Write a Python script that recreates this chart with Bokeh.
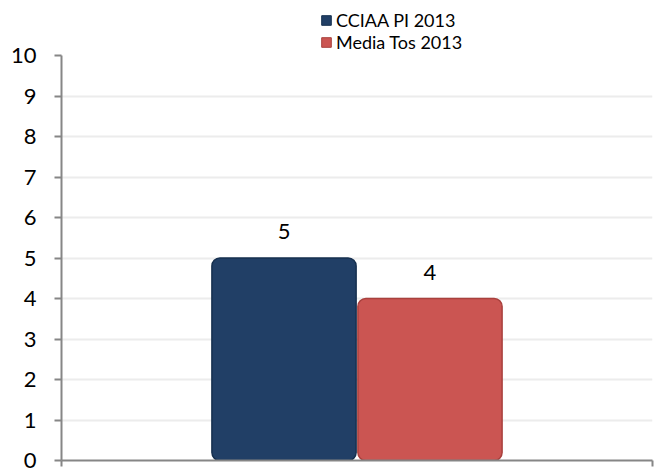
from bokeh.plotting import figure
from bokeh.layouts import column
from bokeh.models import Range1d, FixedTicker, Legend, LegendItem, ColumnDataSource
from bokeh.core.properties import value
from bokeh.embed import file_html
from bokeh.resources import INLINE

series = ["CCIAA PI 2013", "Media Tos 2013"]
values = [5, 4]
colors = ["#213f66", "#cb5552"]
edge_colors = ["#16304f", "#a9403d"]
y_ticks = [0, 1, 2, 3, 4, 5, 6, 7, 8, 9, 10]

FONT = "Lato"
NAN = float("nan")

# ---- legend strip (drawn underneath the chart's transparent top border) ----
lf = figure(width=654, height=55, output_backend="svg", toolbar_location=None,
            x_range=Range1d(0, 1), y_range=Range1d(0, 1), min_border=0,
            x_axis_location=None, y_axis_location=None)
lf.grid.grid_line_color = None
lf.outline_line_color = None
lrs = []
for i in range(2):
    # placeholder glyphs with no drawable data; only their legend swatches show
    lrs.append(lf.vbar(x=[NAN], top=[NAN], bottom=0, width=0.1,
                       fill_color=colors[i], line_color=edge_colors[i], line_width=1))

legend = Legend(items=[LegendItem(label=series[i], renderers=[lrs[i]]) for i in range(2)],
                location=(259, 2), orientation="vertical",
                label_text_font=FONT, label_text_font_size="18px", label_text_color="#000000",
                glyph_width=12, glyph_height=12, label_height=18, spacing=0,
                padding=0, margin=0, label_standoff=4,
                background_fill_alpha=0, border_line_color=None)
lf.add_layout(legend)

# ---- main chart ----
p = figure(width=654, height=476, output_backend="svg", toolbar_location=None,
           frame_width=591, frame_height=405,
           x_range=Range1d(0, 1), y_range=Range1d(0, 10),
           min_border_left=61, min_border_top=55, min_border_bottom=16, min_border_right=2,
           margin=(-55, 0, 0, 0))
p.outline_line_color = None
p.border_fill_alpha = 0
p.background_fill_color = "white"

bar_w = 0.247
xs = [0.5 - bar_w / 2, 0.5 + bar_w / 2]
src = ColumnDataSource(dict(x=xs, top=values, label=[str(v) for v in values]))

for i in range(2):
    p.vbar(x=xs[i], top=values[i], bottom=0, width=bar_w - 0.003,
           fill_color=colors[i], line_color=edge_colors[i], line_width=1.5,
           border_radius=8)

p.text(x="x", y="top", text="label", source=src, x_offset=0, y_offset=-19,
       text_align="center", text_baseline="bottom", text_font=value(FONT),
       text_font_size="22px", text_color="#000000")

p.yaxis.ticker = FixedTicker(ticks=y_ticks)
p.yaxis.axis_line_color = "#868686"
p.yaxis.axis_line_width = 2
p.yaxis.major_tick_line_color = "#868686"
p.yaxis.major_tick_line_width = 2
p.yaxis.major_tick_out = 7
p.yaxis.major_tick_in = 0
p.yaxis.minor_tick_line_color = None
p.yaxis.major_label_text_font = FONT
p.yaxis.major_label_text_font_size = "22px"
p.yaxis.major_label_text_color = "#000000"
p.yaxis.major_label_standoff = 18

p.xaxis.ticker = FixedTicker(ticks=[0, 1])
p.xaxis.axis_line_color = "#868686"
p.xaxis.axis_line_width = 2
p.xaxis.major_tick_line_color = "#868686"
p.xaxis.major_tick_line_width = 2
p.xaxis.major_tick_out = 6
p.xaxis.major_tick_in = 0
p.xaxis.minor_tick_line_color = None
p.xaxis.major_label_text_font_size = "1px"
p.xaxis.major_label_text_color = None
p.xaxis.major_label_standoff = 0

p.xgrid.grid_line_color = None
p.ygrid.ticker = FixedTicker(ticks=y_ticks)
p.ygrid.grid_line_color = "#ececec"
p.ygrid.grid_line_width = 2

layout = column(lf, p, spacing=0)
open("out.html", "w").write(file_html(layout, INLINE))
